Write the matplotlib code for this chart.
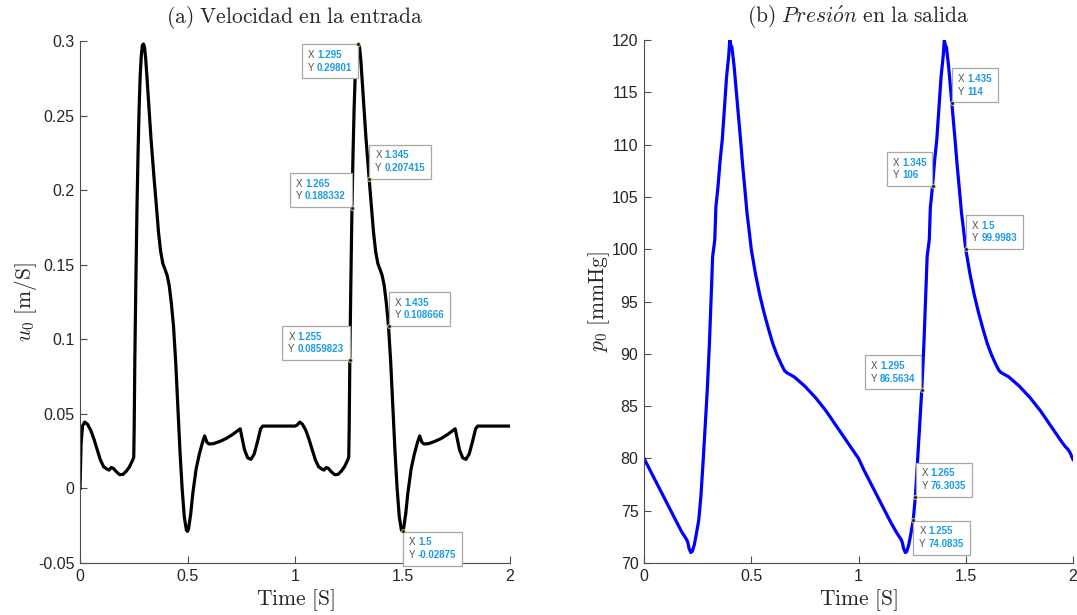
import matplotlib
matplotlib.use("Agg")
import matplotlib.pyplot as plt
from matplotlib.offsetbox import TextArea, HPacker, VPacker, AnnotationBbox

plt.rcParams['mathtext.fontset'] = 'cm'
plt.rcParams['font.family'] = ['Liberation Sans', 'DejaVu Sans']

# ---------------- data ----------------
vel_t = [0.000, 0.005, 0.012, 0.022, 0.035, 0.050, 0.065, 0.080, 0.095, 0.110,
         0.125, 0.135, 0.145, 0.155, 0.170, 0.185, 0.200, 0.215, 0.230, 0.245,
         0.250, 0.252, 0.255, 0.260, 0.265, 0.270, 0.275, 0.280, 0.285, 0.290,
         0.295, 0.300, 0.305, 0.310, 0.320, 0.330, 0.340, 0.345, 0.355, 0.365,
         0.375, 0.385, 0.395, 0.405, 0.415, 0.425, 0.435, 0.445, 0.455, 0.465,
         0.475, 0.485, 0.495, 0.500, 0.505, 0.515, 0.525, 0.540, 0.555, 0.570,
         0.580, 0.590, 0.600, 0.620, 0.650, 0.680, 0.710, 0.740, 0.745, 0.755,
         0.765, 0.780, 0.795, 0.810, 0.825, 0.840, 0.850,
         1.000, 1.010, 1.022, 1.035, 1.050, 1.065, 1.080, 1.095, 1.110,
         1.125, 1.135, 1.145, 1.155, 1.170, 1.185, 1.200, 1.215, 1.230, 1.245,
         1.250, 1.252, 1.255, 1.260, 1.265, 1.270, 1.275, 1.280, 1.285, 1.290,
         1.295, 1.300, 1.305, 1.310, 1.320, 1.330, 1.340, 1.345, 1.355, 1.365,
         1.375, 1.385, 1.395, 1.405, 1.415, 1.425, 1.435, 1.445, 1.455, 1.465,
         1.475, 1.485, 1.495, 1.500, 1.505, 1.515, 1.525, 1.540, 1.555, 1.570,
         1.580, 1.590, 1.600, 1.620, 1.650, 1.680, 1.710, 1.740, 1.745, 1.755,
         1.765, 1.780, 1.795, 1.810, 1.825, 1.840, 1.850, 2.000]
vel_u = [0.000, 0.030, 0.042, 0.0445, 0.043, 0.039, 0.033, 0.026, 0.019, 0.0145,
         0.013, 0.0123, 0.014, 0.0135, 0.0110, 0.0092, 0.0094, 0.0115, 0.0145, 0.019,
         0.021, 0.040, 0.086, 0.140, 0.188, 0.225, 0.255, 0.277, 0.290, 0.297,
         0.298, 0.296, 0.289, 0.279, 0.257, 0.235, 0.216, 0.207, 0.190, 0.172,
         0.159, 0.151, 0.147, 0.143, 0.136, 0.124, 0.1087, 0.085, 0.055, 0.025,
         0.000, -0.019, -0.028, -0.0288, -0.027, -0.017, -0.003, 0.013, 0.023, 0.031,
         0.0352, 0.031, 0.0298, 0.030, 0.0315, 0.0335, 0.0362, 0.0395, 0.040, 0.033,
         0.026, 0.0205, 0.0195, 0.023, 0.031, 0.040, 0.0418,
         0.0418, 0.0425, 0.0445, 0.043, 0.039, 0.033, 0.026, 0.019, 0.0145,
         0.013, 0.0123, 0.014, 0.0135, 0.0110, 0.0092, 0.0094, 0.0115, 0.0145, 0.019,
         0.021, 0.040, 0.0859823, 0.140, 0.188332, 0.225, 0.255, 0.277, 0.290, 0.297,
         0.29801, 0.296, 0.289, 0.279, 0.257, 0.235, 0.216, 0.207415, 0.190, 0.172,
         0.159, 0.151, 0.147, 0.143, 0.136, 0.124, 0.108666, 0.085, 0.055, 0.025,
         0.000, -0.019, -0.028, -0.02875, -0.027, -0.017, -0.003, 0.013, 0.023, 0.031,
         0.0352, 0.031, 0.0298, 0.030, 0.0315, 0.0335, 0.0362, 0.0395, 0.040, 0.033,
         0.026, 0.0205, 0.0195, 0.023, 0.031, 0.040, 0.0418, 0.0418]

pre_t = [0.000, 0.025, 0.050, 0.075, 0.100, 0.125, 0.150, 0.175, 0.200, 0.205,
         0.210, 0.218, 0.225, 0.235, 0.245, 0.255, 0.265, 0.275, 0.285, 0.295,
         0.305, 0.315, 0.320, 0.330, 0.335, 0.345, 0.355, 0.365, 0.375, 0.385,
         0.395, 0.400, 0.405, 0.410, 0.420, 0.435, 0.450, 0.460, 0.470, 0.480,
         0.490, 0.500, 0.520, 0.540, 0.560, 0.580, 0.600, 0.620, 0.640, 0.655,
         0.665, 0.700, 0.750, 0.800, 0.850, 0.900, 0.950,
         1.000, 1.025, 1.050, 1.075, 1.100, 1.125, 1.150, 1.175, 1.200, 1.205,
         1.210, 1.218, 1.225, 1.235, 1.245, 1.255, 1.265, 1.275, 1.285, 1.295,
         1.305, 1.315, 1.320, 1.330, 1.335, 1.345, 1.355, 1.365, 1.375, 1.385,
         1.395, 1.400, 1.405, 1.410, 1.420, 1.435, 1.450, 1.460, 1.470, 1.480,
         1.490, 1.500, 1.520, 1.540, 1.560, 1.580, 1.600, 1.620, 1.640, 1.655,
         1.665, 1.700, 1.750, 1.800, 1.850, 1.900, 1.950, 1.965, 1.975, 1.985, 2.000]
pre_p = [80.0, 79.0, 78.0, 77.0, 76.0, 75.0, 74.0, 73.0, 72.2, 71.9,
         71.4, 71.0, 71.1, 71.8, 72.9, 74.08, 76.3, 79.5, 83.0, 86.56,
         91.0, 96.5, 99.3, 100.9, 104.0, 106.0, 108.5, 110.5, 113.5, 116.5,
         118.5, 120.0, 119.5, 119.3, 117.5, 114.0, 110.5, 108.0, 105.8, 103.5,
         101.8, 100.0, 97.6, 95.6, 93.9, 92.4, 91.0, 89.9, 89.0, 88.4,
         88.2, 87.8, 86.9, 85.8, 84.5, 83.0, 81.5,
         80.0, 78.9, 77.9, 76.9, 75.9, 74.9, 73.9, 73.0, 72.2, 71.9,
         71.4, 71.0, 71.1, 71.8, 72.9, 74.0835, 76.3035, 79.7, 83.1, 86.5634,
         91.0, 96.5, 99.3, 100.9, 104.0, 106.0, 108.5, 110.5, 113.5, 116.5,
         118.5, 120.0, 119.5, 119.3, 117.5, 114.0, 110.5, 108.0, 105.8, 103.5,
         101.8, 99.9983, 97.6, 95.6, 93.9, 92.4, 91.0, 89.9, 89.0, 88.4,
         88.2, 87.8, 86.9, 85.8, 84.5, 83.0, 81.5, 81.1, 80.9, 80.6, 79.9]

vel_tip_t = [1.295, 1.265, 1.345, 1.255, 1.435, 1.5]
vel_tip_u = [0.29801, 0.188332, 0.207415, 0.0859823, 0.108666, -0.02875]
vel_tip_loc = ['ll', 'ul', 'ur', 'ul', 'ur', 'lr']

pre_tip_t = [1.435, 1.345, 1.5, 1.295, 1.265, 1.255]
pre_tip_p = [114, 106, 99.9983, 86.5634, 76.3035, 74.0835]
pre_tip_loc = ['ur', 'ul', 'ur', 'ul', 'ur', 'lr']

x_ticks = [0, 0.5, 1, 1.5, 2]
x_ticklabels = ['0', '0.5', '1', '1.5', '2']
vel_yticks = [-0.05, 0, 0.05, 0.1, 0.15, 0.2, 0.25, 0.3]
vel_yticklabels = ['-0.05', '0', '0.05', '0.1', '0.15', '0.2', '0.25', '0.3']
pre_yticks = [70, 75, 80, 85, 90, 95, 100, 105, 110, 115, 120]

# ---------------- figure ----------------
fig = plt.figure(figsize=(10.77, 6.15), dpi=100)
W, H = 1077, 615
axL = fig.add_axes([80 / W, 1 - 563 / H, 430 / W, 522 / H])
axR = fig.add_axes([644 / W, 1 - 563 / H, 429 / W, 523 / H])

AXC = '#4d4d4d'
TXT = '#262626'


def style(ax):
    for s in ('top', 'right'):
        ax.spines[s].set_visible(False)
    for s in ('left', 'bottom'):
        ax.spines[s].set_color(AXC)
        ax.spines[s].set_linewidth(0.8)
    ax.tick_params(direction='in', length=5, width=0.8, color=AXC,
                   labelcolor=TXT, labelsize=11.5, pad=4)


def datatip(ax, x, y, loc):
    rows = []
    for lab, val in (('X', '%g' % x), ('Y', '%g' % y)):
        rows.append(HPacker(children=[
            TextArea(lab, textprops=dict(color='#505050', fontsize=7)),
            TextArea(val, textprops=dict(color='#1a9be6', fontsize=7,
                                         fontweight='bold'))],
            pad=0, sep=2.0, align='baseline'))
    box = VPacker(children=rows, pad=0, sep=1.8, align='left')
    d = 4.4
    align, off = {'ul': ((1, 0), (-d, d)), 'ur': ((0, 0), (d, d)),
                  'lr': ((0, 1), (d, -d)), 'll': ((1, 1), (-d, -d))}[loc]
    ab = AnnotationBbox(box, (x, y), xybox=off, xycoords='data',
                        boxcoords='offset points', box_alignment=align,
                        frameon=True, pad=0.42,
                        bboxprops=dict(edgecolor='#a8a8a8', facecolor='white',
                                       lw=0.9, boxstyle='square,pad=0.42'),
                        zorder=5)
    ax.add_artist(ab)
    ax.plot([x], [y], 'o', ms=2.8, mfc='#202020', mec='#d8d890', mew=0.6,
            zorder=6)


# left panel
axL.plot(vel_t, vel_u, color='black', lw=2.3, solid_joinstyle='round')
axL.set_xlim(0, 2)
axL.set_ylim(-0.05, 0.3)
axL.set_xticks(x_ticks)
axL.set_xticklabels(x_ticklabels)
axL.set_yticks(vel_yticks)
axL.set_yticklabels(vel_yticklabels)
style(axL)
axL.set_title(r'$\mathrm{(a)\ Velocidad\ en\ la\ entrada}$', fontsize=15.5,
              color=TXT, pad=13)
axL.set_xlabel(r'$\mathrm{Time\ [S]}$', fontsize=15.5, color=TXT, labelpad=3)
axL.set_ylabel(r'$u_0\ \mathrm{[m/S]}$', fontsize=15.5, color=TXT, labelpad=-1)
for t, u, loc in zip(vel_tip_t, vel_tip_u, vel_tip_loc):
    datatip(axL, t, u, loc)

# right panel
axR.plot(pre_t, pre_p, color='#0000ff', lw=2.3, solid_joinstyle='round')
axR.set_xlim(0, 2)
axR.set_ylim(70, 120)
axR.set_xticks(x_ticks)
axR.set_xticklabels(x_ticklabels)
axR.set_yticks(pre_yticks)
style(axR)
axR.set_title(r'$\mathrm{(b)}\ \mathit{Presi\acute{o}n}\ \mathrm{en\ la\ salida}$',
              fontsize=15.5, color=TXT, pad=13)
axR.set_xlabel(r'$\mathrm{Time\ [S]}$', fontsize=15.5, color=TXT, labelpad=3)
axR.set_ylabel(r'$p_0\ \mathrm{[mmHg]}$', fontsize=15.5, color=TXT, labelpad=0)
for t, p, loc in zip(pre_tip_t, pre_tip_p, pre_tip_loc):
    datatip(axR, t, p, loc)

fig.savefig('out.png', dpi=100)
